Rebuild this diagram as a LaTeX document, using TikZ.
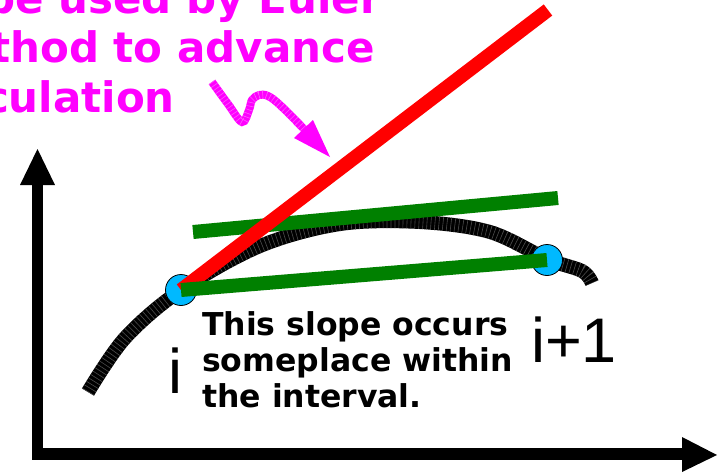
\documentclass[tikz,border=0pt]{standalone}
\usepackage{fontspec}
\setmainfont{DejaVu Sans}
\newfontfamily\labfont{Liberation Sans}
\usetikzlibrary{arrows.meta}
\definecolor{ptcyan}{RGB}{0,185,255}
\definecolor{ptgreen}{RGB}{0,128,0}
\definecolor{ptmag}{RGB}{255,0,255}
\tikzset{
  axisline/.style={line width=11.5pt, black},
  axishead/.style={fill=black, draw=none},
  curveline/.style={line width=14pt, black},
  curvehatch/.style={line width=14pt, black!70, dash pattern=on 0.6pt off 3.4pt},
  ptdot/.style={circle, fill=ptcyan, draw=black, line width=0.8pt, minimum size=31pt, inner sep=0pt},
  redline/.style={line width=14pt, red},
  greenline/.style={line width=14pt, ptgreen},
  magtext/.style={text=ptmag, font=\bfseries\fontsize{42}{49.5}\selectfont, inner sep=0pt, anchor=base east},
  blacktext/.style={text=black, font=\bfseries\fontsize{31.5}{36}\selectfont, inner sep=0pt, anchor=base west},
  labtext/.style={text=black, font=\labfont\fontsize{63}{70}\selectfont, inner sep=0pt, anchor=base west},
  magline/.style={line width=8pt, ptmag},
  maghatch/.style={line width=8pt, ptmag!65!white, dash pattern=on 0.6pt off 3.2pt},
}
\begin{document}
\begin{tikzpicture}[x=1pt,y=-1pt]
\useasboundingbox (0,0) rectangle (724,472);
\clip (0,0) rectangle (724,472);
\fill[white] (0,0) rectangle (724,472);

% axes
\coordinate (yb) at (37.5,459);
\coordinate (yt) at (37.5,185);
\coordinate (xl) at (32,454);
\coordinate (xr) at (682,454);
\draw[axisline] (yb) -- (yt);
\fill[axishead] (20,185) -- (55,185) -- (37.5,149) -- cycle;
\draw[axisline] (xl) -- (xr);
\fill[axishead] (682,437) -- (682,472) -- (717,455) -- cycle;

% curve
\draw[curveline] plot[smooth, tension=0.55] coordinates {(88,392) (125,338) (181,290) (260,246) (340,224) (420,222) (490,232) (547,259) (582,271) (592,283)};
\draw[curvehatch] plot[smooth, tension=0.55] coordinates {(88,392) (125,338) (181,290) (260,246) (340,224) (420,222) (490,232) (547,259) (582,271) (592,283)};

% points
\node[ptdot] (pi) at (181,290) {};
\node[ptdot] (pj) at (547,260) {};

% slopes
\coordinate (gua) at (193,232);
\coordinate (gub) at (558,198);
\draw[greenline] (gua) -- (gub);
\coordinate (redend) at (548,10);
\draw[redline] (pi.center) -- (redend);
\draw[greenline] (pi.center) -- (pj.center);

% labels
\node[labtext] (li) at (168,393) {i};
\node[labtext] (lj) at (531,362) {i+1};

\node[blacktext] (t1) at (202,335) {This slope occurs};
\node[blacktext] (t2) at (202,371) {someplace within};
\node[blacktext] (t3) at (202,407) {the interval.};

\node[magtext] (m1) at (381,13) {Slope to be used by Euler};
\node[magtext] (m2) at (375,62) {method to advance};
\node[magtext] (m3) at (175,112) {calculation};

% magenta squiggle arrow
\coordinate (ah) at (330,157);
\draw[magline] plot[smooth, tension=0.6] coordinates {(212,82) (228,104) (242,122) (249,110) (252,100) (259,95) (268,96) (280,105) (304,129)};
\draw[maghatch] plot[smooth, tension=0.6] coordinates {(212,82) (228,104) (242,122) (249,110) (252,100) (259,95) (268,96) (280,105) (304,129)};
\fill[ptmag] (294,138) -- (313,120) -- (ah) -- cycle;
\end{tikzpicture}
\end{document}
